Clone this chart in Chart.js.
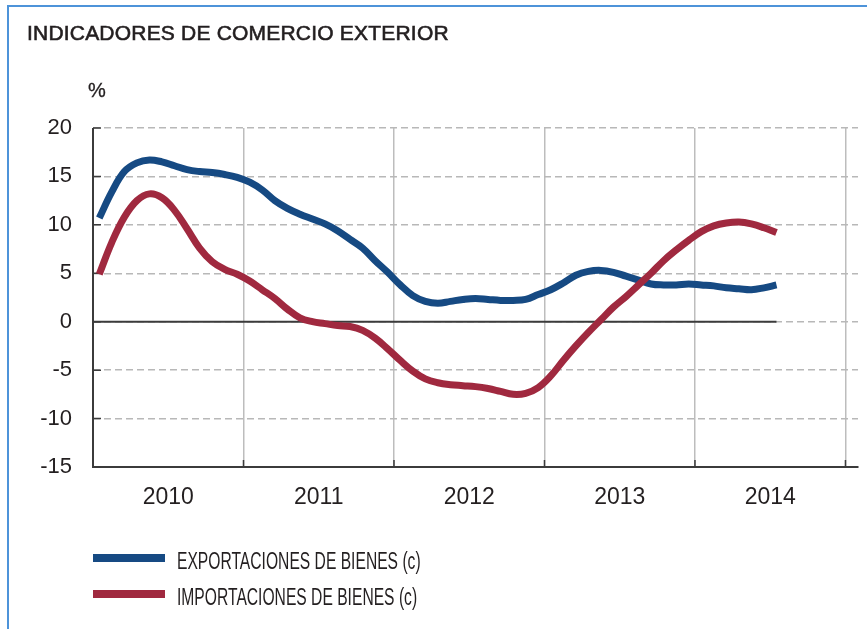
<!DOCTYPE html>
<html>
<head>
<meta charset="utf-8">
<script src="https://cdn.jsdelivr.net/npm/chart.js@4.4.1/dist/chart.umd.min.js"></script>
<style>
    html, body { margin: 0; padding: 0; background: #fff; }
    #wrap { position: relative; width: 867px; height: 629px; overflow: hidden; font-family: 'Liberation Sans', Arial, sans-serif; color: #231f20; }
    #frame { position: absolute; left: 7px; top: 5px; width: 900px; height: 700px; border-left: 2px solid #4d93d9; border-top: 2px solid #4d93d9; }
    #chart { position: absolute; left: 0; top: 0; }
    .title { position: absolute; left: 27px; top: 22px; font-size: 21px; line-height: 21px; white-space: nowrap; letter-spacing: 0.2px; -webkit-text-stroke: 0.6px #231f20; }
    .unit { position: absolute; left: 88px; top: 80px; font-size: 20px; line-height: 20px; -webkit-text-stroke: 0.3px #231f20; }
    .leg-line { position: absolute; left: 93px; width: 72px; height: 8px; }
    .leg-text { position: absolute; left: 177px; font-size: 23px; line-height: 23px; white-space: nowrap; transform: scaleX(0.68); transform-origin: left center; }
</style>
</head>
<body>
<div id="wrap">
    <div id="frame"></div>
    <canvas id="chart" width="867" height="629"></canvas>
    <div class="title">INDICADORES DE COMERCIO EXTERIOR</div>
    <div class="unit">%</div>
    <div class="leg-line" style="top:554px; background:#164a83;"></div>
    <div class="leg-text" style="top:550px;">EXPORTACIONES DE BIENES (c)</div>
    <div class="leg-line" style="top:590px; background:#a0293f;"></div>
    <div class="leg-text" style="top:586px;">IMPORTACIONES DE BIENES (c)</div>
</div>
<script>
// años del eje X (etiqueta centrada en cada año)
const years = ['2010', '2011', '2012', '2013', '2014'];

// datos mensuales, enero 2010 - julio 2014 (%)
const exportaciones = [
    10.7, 13.4, 15.5, 16.4, 16.7, 16.5, 16.1, 15.7, 15.5, 15.4, 15.2, 14.9,
    14.4, 13.6, 12.5, 11.7, 11.1, 10.6, 10.1, 9.4, 8.5, 7.6, 6.3, 5.1,
    3.8, 2.7, 2.1, 1.9, 2.1, 2.3, 2.4, 2.3, 2.2, 2.2, 2.3, 2.8,
    3.3, 4.0, 4.8, 5.2, 5.3, 5.1, 4.7, 4.3, 3.9, 3.8, 3.8, 3.9,
    3.8, 3.7, 3.5, 3.4, 3.3, 3.5, 3.8
];
const importaciones = [
    4.9, 8.2, 10.8, 12.5, 13.2, 12.8, 11.5, 9.6, 7.6, 6.2, 5.4, 4.9,
    4.2, 3.3, 2.4, 1.3, 0.4, 0.0, -0.2, -0.4, -0.5, -0.9, -1.7, -2.8,
    -4.0, -5.1, -5.9, -6.3, -6.5, -6.6, -6.7, -6.9, -7.2, -7.5, -7.4, -6.8,
    -5.6, -4.0, -2.5, -1.1, 0.2, 1.5, 2.6, 3.8, 5.0, 6.3, 7.4, 8.4,
    9.3, 9.9, 10.2, 10.3, 10.1, 9.7, 9.2
];

// marcas del eje Y
const yTicks = [-15, -10, -5, 0, 5, 10, 15, 20];

// meses: cada punto en el centro de su mes
const toPoints = arr => arr.map((v, i) => ({ x: i + 0.5, y: v }));
const lastMonth = exportaciones.length - 0.5;

// ticks del eje X: límites de año (rejilla) y centros de año (etiquetas)
const xTickValues = [];
for (let m = 0; m <= 60; m += 6) xTickValues.push(m);

const AXIS_COLOR = '#3b3b3b';

/**
 * Ejes, marcas interiores y línea del cero
 */
const axisMarks = {
    id: 'axisMarks',
    beforeDatasetsDraw(chart) {
        const { ctx, chartArea: a, scales: { x, y } } = chart;
        ctx.save();
        ctx.strokeStyle = AXIS_COLOR;

        // eje vertical
        ctx.lineWidth = 2;
        ctx.beginPath();
        ctx.moveTo(a.left, a.top);
        ctx.lineTo(a.left, a.bottom);
        ctx.stroke();

        // línea del cero hasta el último dato
        const y0 = y.getPixelForValue(0);
        ctx.beginPath();
        ctx.moveTo(a.left, y0);
        ctx.lineTo(x.getPixelForValue(lastMonth), y0);
        ctx.stroke();

        // marcas interiores
        ctx.lineWidth = 1.5;
        ctx.beginPath();
        xTickValues.forEach(v => {
            if (v === 0 || v % 12 !== 0) return;
            const px = x.getPixelForValue(v);
            ctx.moveTo(px, a.bottom);
            ctx.lineTo(px, a.bottom - 7);
        });
        yTicks.forEach(v => {
            const py = y.getPixelForValue(v);
            ctx.moveTo(a.left, py);
            ctx.lineTo(a.left + 8, py);
        });
        ctx.stroke();
        ctx.restore();
    }
};

new Chart(document.getElementById('chart'), {
    type: 'line',
    data: {
        datasets: [{
            label: 'EXPORTACIONES DE BIENES (c)',
            data: toPoints(exportaciones),
            borderColor: '#164a83',
            borderWidth: 7,
            pointRadius: 0,
            tension: 0.4,
            order: 2
        }, {
            label: 'IMPORTACIONES DE BIENES (c)',
            data: toPoints(importaciones),
            borderColor: '#a0293f',
            borderWidth: 7,
            pointRadius: 0,
            tension: 0.4,
            order: 1
        }]
    },
    options: {
        responsive: false,
        animation: false,
        layout: { padding: { top: 128, right: 9, bottom: 0, left: 0 } },
        plugins: {
            legend: { display: false },
            tooltip: { enabled: false }
        },
        scales: {
            x: {
                type: 'linear',
                min: 0,
                max: 61,
                afterBuildTicks: scale => {
                    scale.ticks = xTickValues.map(v => ({ value: v }));
                },
                afterFit: scale => { scale.height = 162; },
                grid: {
                    drawTicks: false,
                    lineWidth: 1.5,
                    color: ctx => (ctx.tick && ctx.tick.value % 12 === 0) ? '#bdbdbd' : 'rgba(0,0,0,0)'
                },
                border: { display: true, color: AXIS_COLOR, width: 2 },
                ticks: {
                    autoSkip: false,
                    maxRotation: 0,
                    padding: 17,
                    color: '#231f20',
                    font: { family: "'Liberation Sans', Arial, sans-serif", size: 23 },
                    callback: value => value % 12 === 6 ? years[(value - 6) / 12] : ''
                }
            },
            y: {
                min: -15,
                max: 20,
                afterBuildTicks: scale => {
                    scale.ticks = yTicks.map(v => ({ value: v }));
                },
                afterFit: scale => { scale.width = 93; },
                grid: {
                    drawTicks: false,
                    lineWidth: 1.5,
                    color: ctx => (ctx.tick && ctx.tick.value === -15) ? 'rgba(0,0,0,0)' : '#b8b8b8'
                },
                border: { display: false, dash: [7, 4] },
                ticks: {
                    padding: 21,
                    color: '#231f20',
                    font: { family: "'Liberation Sans', Arial, sans-serif", size: 22 },
                    callback: value => String(value)
                }
            }
        }
    },
    plugins: [axisMarks]
});
</script>
</body>
</html>
